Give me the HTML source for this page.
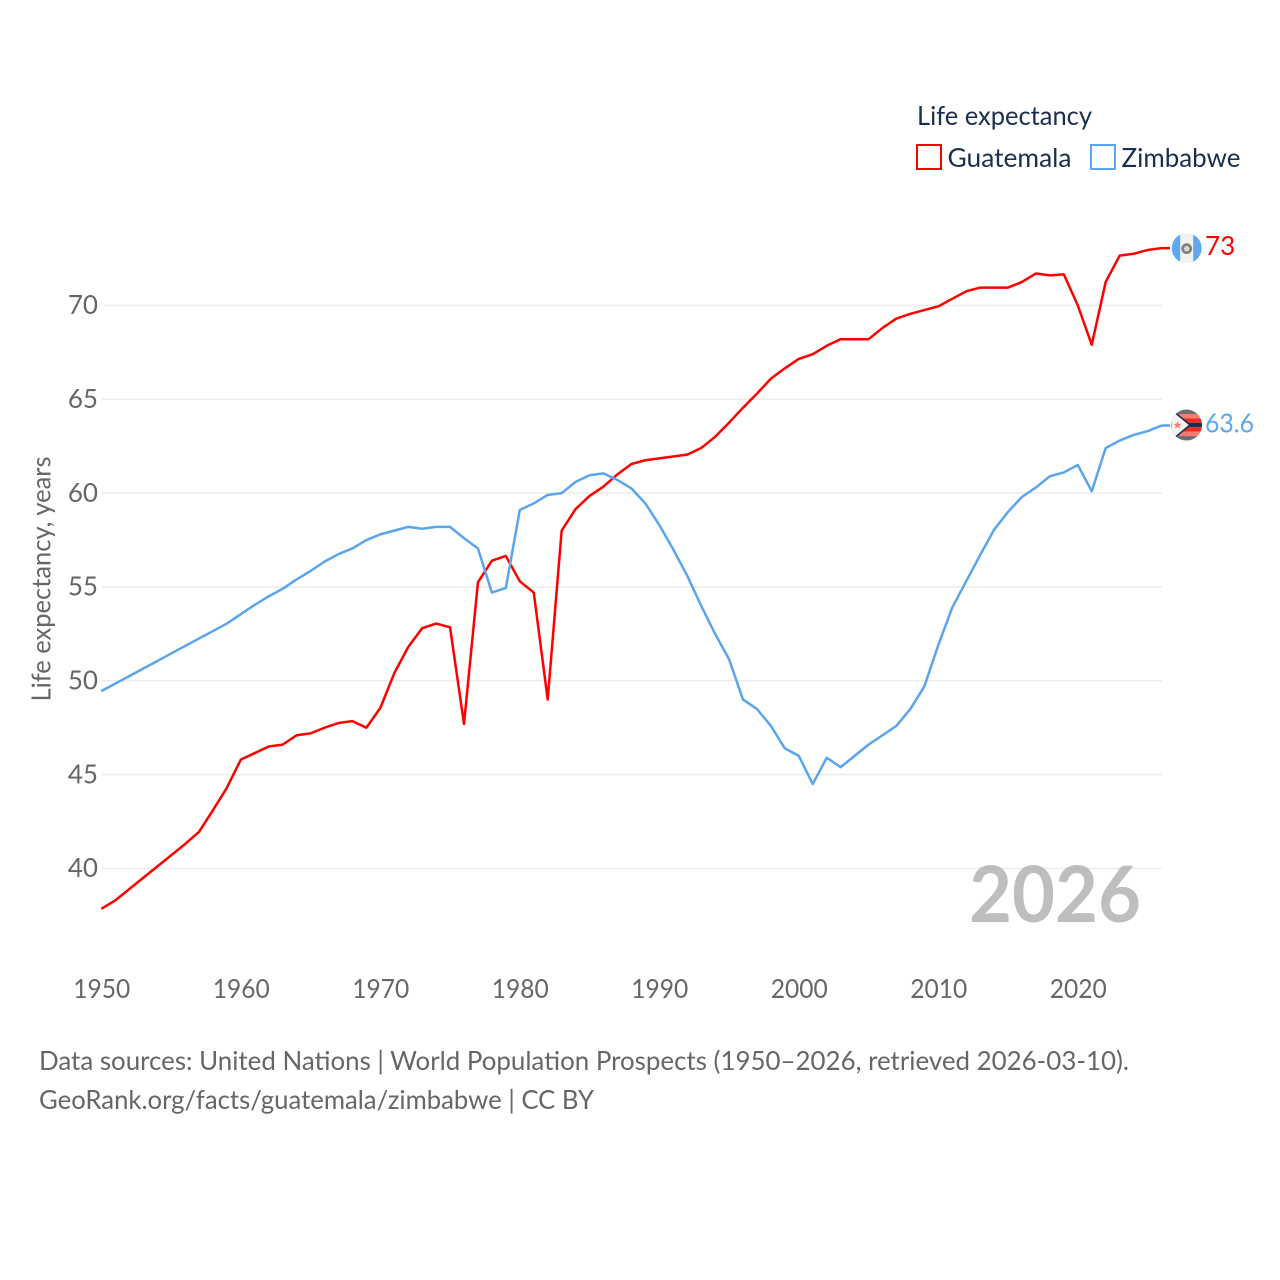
<!DOCTYPE html>
<html lang="en">
<head>
<meta charset="utf-8">
<title>Life expectancy: Guatemala and Zimbabwe</title>
<style>
  html, body { margin: 0; padding: 0; background: #fff; }
  svg { display: block; font-family: "Lato", "Carlito", "Liberation Sans", sans-serif; }
</style>
</head>
<body>
<svg id="chart" xmlns="http://www.w3.org/2000/svg" width="1280" height="1280" viewBox="0 0 1280 1280">
  <defs>
    <clipPath id="flag-clip-gt"><circle cx="0" cy="0" r="15"/></clipPath>
    <clipPath id="flag-clip-zw"><circle cx="0" cy="0" r="15.5"/></clipPath>
  </defs>
  <rect width="1280" height="1280" fill="#ffffff"/>

  <g id="grid"></g>
  <g id="y-ticks"></g>
  <g id="x-ticks"></g>

  <text transform="translate(50.5,579) rotate(-90)" text-anchor="middle" font-size="26" fill="#666666" textLength="245" lengthAdjust="spacingAndGlyphs">Life expectancy, years</text>

  <text x="1141" y="922" text-anchor="end" font-size="78" font-weight="700" fill="#a8a8a8" fill-opacity="0.75" textLength="172" lengthAdjust="spacingAndGlyphs">2026</text>

  <g id="series"></g>

  <g id="flag-gt">
    <g clip-path="url(#flag-clip-gt)">
      <rect x="-15" y="-15" width="30" height="30" fill="#f1f1f1"/>
      <rect x="-15" y="-15" width="8.5" height="30" fill="#5fa8ee"/>
      <rect x="6.5" y="-15" width="8.5" height="30" fill="#5fa8ee"/>
      <circle cx="0" cy="0.5" r="4" fill="none" stroke="#808080" stroke-width="2.8"/>
      <path d="M-2 -1.5 L2 2.5 M2 -1.5 L-2 2.5" stroke="#c8c8c8" stroke-width="1"/>
    </g>
  </g>

  <g id="flag-zw">
    <g clip-path="url(#flag-clip-zw)">
      <rect x="-16" y="-16" width="32" height="5" fill="#6e6e6e"/>
      <rect x="-16" y="-11" width="32" height="4.3" fill="#ff7a6e"/>
      <rect x="-16" y="-6.7" width="32" height="4.4" fill="#ee2a22"/>
      <rect x="-16" y="-2.3" width="32" height="4.6" fill="#1a2e4f"/>
      <rect x="-16" y="2.3" width="32" height="4.2" fill="#ee2a22"/>
      <rect x="-16" y="6.5" width="32" height="4.5" fill="#ff7a6e"/>
      <rect x="-16" y="11" width="32" height="5" fill="#6e6e6e"/>
      <polygon points="-16,-16.2 3.5,0 -16,16.2" fill="#f3f3f3" stroke="#1a2e4f" stroke-width="1.6"/>
      <polygon points="-9,-4 -7.9,-1.2 -5,-1.2 -7.2,0.7 -6.5,3.6 -9,2 -11.5,3.6 -10.8,0.7 -13,-1.2 -10.1,-1.2" fill="#ff7a6e"/>
    </g>
  </g>

  <g id="end-labels"></g>

  <g>
    <text x="917" y="125" font-size="26" fill="#1a2e4f" textLength="175" lengthAdjust="spacingAndGlyphs">Life expectancy</text>
    <g>
      <rect x="917" y="145" width="24" height="24" fill="none" stroke="#ff0000" stroke-width="2"/>
      <text x="947.5" y="167" font-size="26" fill="#1a2e4f" textLength="124" lengthAdjust="spacingAndGlyphs">Guatemala</text>
    </g>
    <g>
      <rect x="1091" y="145" width="24" height="24" fill="none" stroke="#5ba4ee" stroke-width="2"/>
      <text x="1121.5" y="167" font-size="26" fill="#1a2e4f" textLength="119" lengthAdjust="spacingAndGlyphs">Zimbabwe</text>
    </g>
  </g>

  <text x="39" y="1070" font-size="26" fill="#666666" textLength="1090" lengthAdjust="spacingAndGlyphs">Data sources: United Nations | World Population Prospects (1950–2026, retrieved 2026-03-10).</text>
  <text x="39" y="1109" font-size="26" fill="#666666" textLength="555" lengthAdjust="spacingAndGlyphs">GeoRank.org/facts/guatemala/zimbabwe | CC BY</text>
</svg>

<script>
const startYear = 1950;
const guatemalaValues = [
  37.85, 38.3, 38.9, 39.5, 40.1, 40.7, 41.3, 41.95, 43.1, 44.3,
  45.8, 46.15, 46.5, 46.6, 47.1, 47.2, 47.5, 47.75, 47.85, 47.5,
  48.55, 50.4, 51.8, 52.8, 53.05, 52.85, 47.7, 55.25, 56.4, 56.65,
  55.3, 54.7, 49.0, 58.0, 59.15, 59.85, 60.35, 61.0, 61.55, 61.75,
  61.85, 61.95, 62.05, 62.4, 63.0, 63.75, 64.55, 65.3, 66.1, 66.65,
  67.15, 67.4, 67.85, 68.2, 68.2, 68.2, 68.8, 69.3, 69.55, 69.75,
  69.95, 70.35, 70.75, 70.95, 70.95, 70.95, 71.25, 71.7, 71.6, 71.65,
  70.0, 67.9, 71.25, 72.65, 72.75, 72.95, 73.05
];
const zimbabweValues = [
  49.45, 49.85, 50.25, 50.65, 51.05, 51.45, 51.85, 52.25, 52.65, 53.05,
  53.55, 54.05, 54.5, 54.9, 55.4, 55.85, 56.35, 56.75, 57.05, 57.5,
  57.8, 58.0, 58.2, 58.1, 58.2, 58.2, 57.6, 57.05, 54.7, 54.95,
  59.1, 59.45, 59.9, 60.0, 60.6, 60.95, 61.05, 60.7, 60.25, 59.45,
  58.3, 57.0, 55.6, 54.0, 52.5, 51.15, 49.0, 48.5, 47.6, 46.4,
  46.0, 44.5, 45.9, 45.4, 46.0, 46.6, 47.1, 47.6, 48.5, 49.7,
  51.9, 53.9, 55.3, 56.7, 58.05, 59.0, 59.8, 60.3, 60.9, 61.1,
  61.5, 60.1, 62.4, 62.8, 63.1, 63.3, 63.6
];
const xTickLabels = [1950, 1960, 1970, 1980, 1990, 2000, 2010, 2020];
const yTickLabels = [40, 45, 50, 55, 60, 65, 70];
const guatemalaEndLabel = "73";
const zimbabweEndLabel = "63.6";

const SVG_NS = "http://www.w3.org/2000/svg";
const RED = "#ff0000";
const BLUE = "#5ba4ee";
const PLOT_LEFT = 102;
const PLOT_RIGHT = 1162;

function xScale(year) {
  return 101.3 + (year - 1950) * 13.95;
}
function yScale(value) {
  return 868.5 - (value - 40) * 18.77;
}
function pathFor(values) {
  return values.map(function (v, i) {
    return (i ? "L" : "M") + xScale(startYear + i).toFixed(2) + " " + yScale(v).toFixed(2);
  }).join(" ");
}
function make(tag, attrs, parent) {
  const el = document.createElementNS(SVG_NS, tag);
  Object.keys(attrs).forEach(function (k) { el.setAttribute(k, attrs[k]); });
  parent.appendChild(el);
  return el;
}

const gridGroup = document.getElementById("grid");
const yTickGroup = document.getElementById("y-ticks");
const xTickGroup = document.getElementById("x-ticks");
const seriesGroup = document.getElementById("series");
const endLabelGroup = document.getElementById("end-labels");

yTickLabels.forEach(function (t) {
  const line = make("line", { x1: PLOT_LEFT, x2: PLOT_RIGHT, y1: yScale(t), y2: yScale(t), stroke: "#ececec", "stroke-width": 1.5 }, gridGroup);
  
  
  const label = make("text", { x: 98, y: yScale(t) + 8.7, "text-anchor": "end", "font-size": 26, fill: "#666666" }, yTickGroup);
  
  
  label.textContent = t;
});

xTickLabels.forEach(function (t) {
  const label = make("text", { x: xScale(t) + 0.5, y: 998, "text-anchor": "middle", "font-size": 26, fill: "#666666", textLength: 57, lengthAdjust: "spacingAndGlyphs" }, xTickGroup);
  
  
  label.textContent = t;
});

const guatemalaLine = make("path", { d: pathFor(guatemalaValues), fill: "none", stroke: RED, "stroke-width": 2.5, "stroke-linejoin": "round" }, seriesGroup);



const zimbabweLine = make("path", { d: pathFor(zimbabweValues), fill: "none", stroke: BLUE, "stroke-width": 2.5, "stroke-linejoin": "round" }, seriesGroup);



const lastYear = startYear + guatemalaValues.length - 1;
const gtLast = guatemalaValues[guatemalaValues.length - 1];
const zwLast = zimbabweValues[zimbabweValues.length - 1];

const gtConnector = make("line", { x1: xScale(lastYear), x2: 1170, y1: yScale(gtLast), y2: yScale(gtLast), stroke: RED, "stroke-width": 2.5 }, seriesGroup);



const zwConnector = make("line", { x1: xScale(lastYear), x2: 1170, y1: yScale(zwLast), y2: yScale(zwLast), stroke: BLUE, "stroke-width": 2.5 }, seriesGroup);



document.getElementById("flag-gt").setAttribute("transform", "translate(1186.7," + yScale(gtLast) + ")");
document.getElementById("flag-zw").setAttribute("transform", "translate(1186.5," + (yScale(zwLast) - 0.5) + ")");

const gtEnd = make("text", { x: 1205, y: yScale(gtLast) + 7, "font-size": 26, fill: RED }, endLabelGroup);


gtEnd.textContent = guatemalaEndLabel;

const zwEnd = make("text", { x: 1205, y: yScale(zwLast) + 7, "font-size": 26, fill: BLUE, textLength: 49, lengthAdjust: "spacingAndGlyphs" }, endLabelGroup);


zwEnd.textContent = zimbabweEndLabel;
</script>
</body>
</html>
